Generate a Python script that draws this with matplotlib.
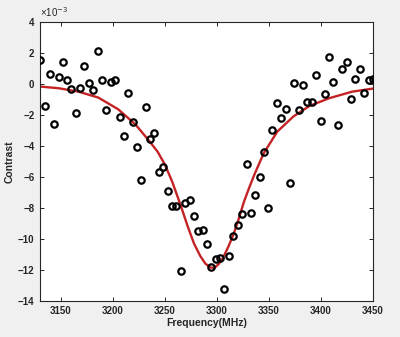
import matplotlib
matplotlib.use('Agg')
import matplotlib.pyplot as plt

# measured points (contrast in units of 1e-3)
freq = [3130, 3135, 3139.5, 3143.6, 3147.8, 3152, 3156, 3160, 3164.4, 3168.5,
        3172.7, 3176.8, 3181.3, 3185.4, 3189.6, 3193.8, 3198, 3202, 3206.5, 3210.7,
        3214.8, 3219, 3223, 3227.3, 3231.7, 3236, 3240, 3244.2, 3248.4, 3252.8,
        3257, 3261, 3265.2, 3269.7, 3273.9, 3278, 3282.2, 3286.3, 3290.5, 3294.6,
        3298.8, 3303, 3307, 3311.6, 3315.7, 3319.8, 3324.2, 3328.7, 3332.7, 3336.8,
        3341, 3345, 3349.4, 3353.4, 3357.6, 3361.7, 3366, 3370.5, 3374.4, 3378.6,
        3382.7, 3386.8, 3391, 3395, 3399.6, 3403.7, 3407.9, 3412, 3416, 3420.5,
        3424.7, 3429, 3433, 3437.3, 3441.5, 3446, 3450]
contrast = [1.55, -1.4, 0.65, -2.56, 0.45, 1.44, 0.24, -0.34, -1.85, -0.26,
            1.14, 0.06, -0.37, 2.15, 0.24, -1.66, 0.13, 0.24, -2.15, -3.37,
            -0.56, -2.47, -4.06, -6.19, -1.46, -3.57, -3.16, -5.7, -5.35, -6.88,
            -7.9, -7.9, -12.1, -7.66, -7.48, -8.5, -9.5, -9.4, -10.3, -11.83,
            -11.3, -11.2, -13.2, -11.1, -9.8, -9.1, -8.4, -5.16, -8.3, -7.18,
            -5.98, -4.37, -7.98, -2.97, -1.25, -2.17, -1.63, -6.39, 0.06, -1.66,
            -0.05, -1.14, -1.14, 0.56, -2.37, -0.67, 1.76, 0.15, -2.67, 0.95,
            1.44, -0.97, 0.34, 0.95, -0.56, 0.24, 0.34]

# fitted curve
fit_freq = [3130, 3148, 3167, 3186, 3205, 3221.5, 3234, 3243, 3250, 3257,
            3265, 3272, 3278, 3284, 3289, 3294, 3298, 3302, 3306, 3311,
            3316, 3321, 3326, 3331, 3336, 3345, 3358, 3373.5, 3389, 3408,
            3430, 3450]
fit_contrast = [-0.17, -0.28, -0.5, -0.88, -1.63, -2.6, -3.6, -4.37, -5.2, -6.3,
                -7.8, -9.2, -10.3, -11.1, -11.6, -11.85, -11.85, -11.6, -11.2, -10.5,
                -9.7, -8.7, -7.6, -6.7, -5.85, -4.47, -3.08, -2.1, -1.42, -0.92,
                -0.5, -0.3]

xticks = [3150, 3200, 3250, 3300, 3350, 3400, 3450]
yticks = list(range(-14, 5, 2))

plt.rcParams['font.family'] = ['Liberation Sans', 'DejaVu Sans']
fig = plt.figure(figsize=(4.0, 3.37), dpi=100, facecolor='#f0f0f0')
ax = fig.add_axes([0.1, 0.107, 0.8325, 0.828])
ax.set_facecolor('white')

ax.plot(freq, contrast, 'o', mfc='none', mec='black', ms=4.6, mew=1.6, zorder=3)
ax.plot(fit_freq, fit_contrast, color='#c42326', lw=1.7, zorder=2)

ax.set_xlim(3130, 3450)
ax.set_ylim(-14, 4)
ax.set_xticks(xticks)
ax.set_yticks(yticks)
ax.tick_params(direction='in', top=True, right=True, length=3, width=0.7,
               labelsize=7, colors='#262626', pad=4)
for lab in ax.get_xticklabels() + ax.get_yticklabels():
    lab.set_fontweight('bold')
for s in ax.spines.values():
    s.set_linewidth(0.8)
    s.set_color('#262626')

ax.set_xlabel('Frequency(MHz)', fontsize=7.5, fontweight='bold', color='#262626', labelpad=1)
ax.set_ylabel('Contrast', fontsize=7.5, fontweight='bold', color='#262626', labelpad=2)
ax.text(0.0, 1.012, '\u00d710$^{-3}$', transform=ax.transAxes, fontsize=7,
        color='#262626', ha='left', va='bottom')

plt.savefig('out.png', dpi=100, facecolor=fig.get_facecolor())
